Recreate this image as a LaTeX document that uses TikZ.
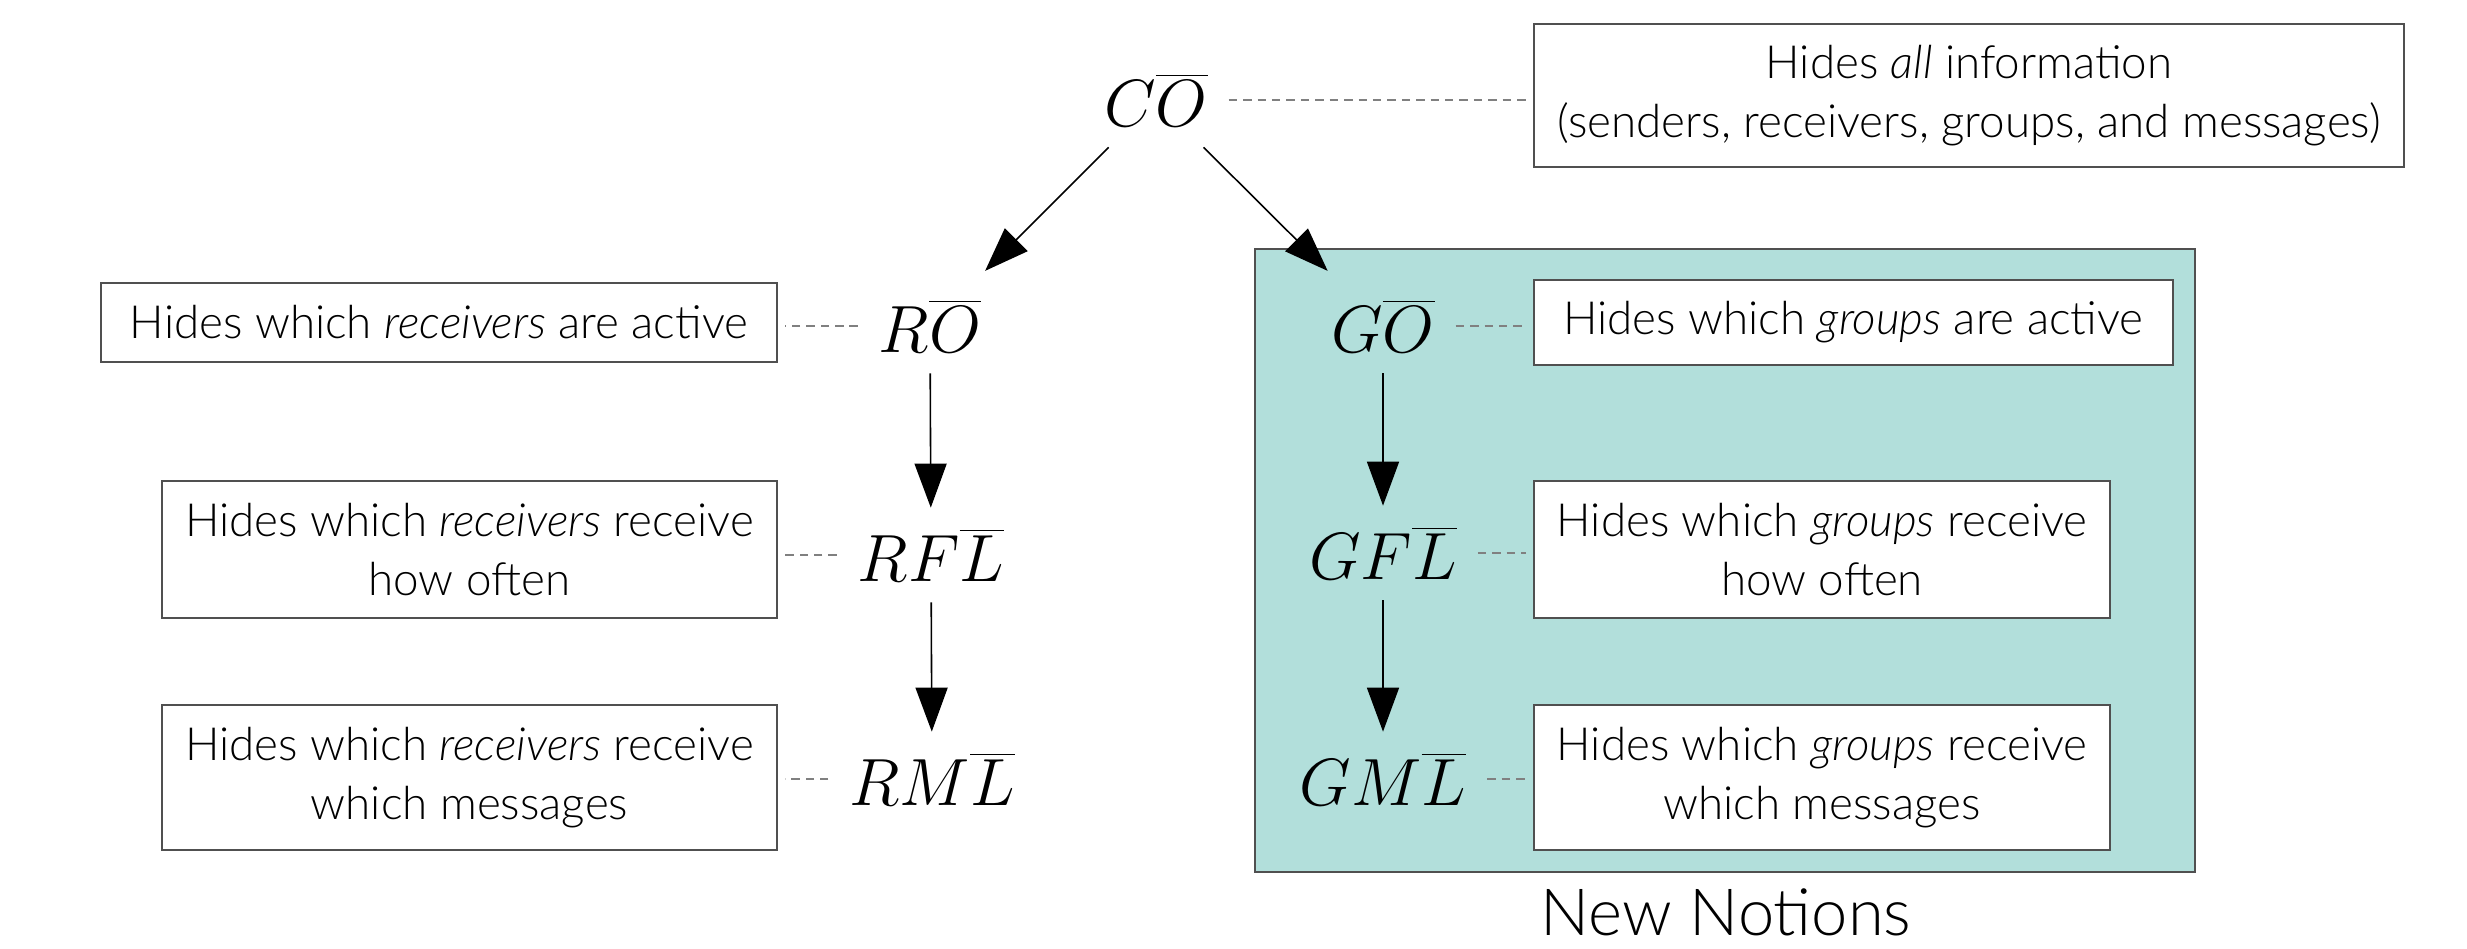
\RequirePackage{fix-cm}
\documentclass[tikz,border=0pt]{standalone}
\usepackage{fontspec}
\setmainfont{Lato}[UprightFont={* Light}, ItalicFont={* Light Italic}]
\usetikzlibrary{arrows.meta}
\definecolor{notionfill}{HTML}{B2DFDB}
\definecolor{boxline}{HTML}{505050}
\definecolor{dashline}{HTML}{808080}
\begin{document}
\begin{tikzpicture}[x=0.01cm,y=-0.01cm,
  notion/.style={inner sep=0pt, outer sep=0.21cm, font=\fontsize{19}{23}\selectfont},
  descbox/.style={draw=boxline, line width=0.55pt, fill=white, align=center,
    inner sep=0pt, font=\fontsize{13}{16.9}\selectfont},
  region/.style={draw=boxline, line width=0.55pt, fill=notionfill, inner sep=0pt,
    minimum width=9.40cm, minimum height=6.23cm},
  link/.style={draw=dashline, line width=0.45pt, dash pattern=on 2.4pt off 1.7pt,
    shorten >=0.07cm},
  refines/.style={-{Triangle[length=0.44cm,width=0.32cm]}, line width=0.45pt},
  diag/.style={refines, shorten >=0.11cm}]
\useasboundingbox (0,0) rectangle (2467,948);

% shaded area of the new notions
\node[region] (newarea) at (1725,560.5) {};
\node[font=\fontsize{18.5}{22}\selectfont] (newlabel) at (1726,912) {New Notions};

% notions
\node[notion] (co)  at (1156,100) {$C\overline{O}$};
\node[notion] (ro)  at (930,326)  {$R\overline{O}$};
\node[notion] (rfl) at (931,555)  {$RF\overline{L}$};
\node[notion] (rml) at (932,779)  {$RM\overline{L}$};
\node[notion] (go)  at (1383,326) {$G\overline{O}$};
\node[notion] (gfl) at (1383,553) {$GF\overline{L}$};
\node[notion] (gml) at (1383,779) {$GM\overline{L}$};

% descriptions
\node[descbox, minimum width=8.70cm, minimum height=1.43cm] (coinfo) at (1969,95.5)
  {Hides \emph{all} information\\(senders, receivers, groups, and messages)};
\node[descbox, minimum width=6.76cm, minimum height=0.79cm] (roinfo) at (439,322.5)
  {Hides which \emph{receivers} are active};
\node[descbox, minimum width=6.15cm, minimum height=1.37cm] (rflinfo) at (469.5,549.5)
  {Hides which \emph{receivers} receive\\how often};
\node[descbox, minimum width=6.15cm, minimum height=1.45cm] (rmlinfo) at (469.5,777.5)
  {Hides which \emph{receivers} receive\\which messages};
\node[descbox, minimum width=6.39cm, minimum height=0.85cm] (goinfo) at (1853.5,322.5)
  {Hides which \emph{groups} are active};
\node[descbox, minimum width=5.76cm, minimum height=1.37cm] (gflinfo) at (1822,549.5)
  {Hides which \emph{groups} receive\\how often};
\node[descbox, minimum width=5.76cm, minimum height=1.45cm] (gmlinfo) at (1822,777.5)
  {Hides which \emph{groups} receive\\which messages};

% refinement arrows
\draw[diag] (co) -- (ro);
\draw[diag] (co) -- (go);
\draw[refines] (ro) -- (rfl);
\draw[refines] (rfl) -- (rml);
\draw[refines] (go) -- (gfl);
\draw[refines] (gfl) -- (gml);

% links to the descriptions
\draw[link] (co) -- (co -| coinfo.west);
\draw[link] (ro) -- (ro -| roinfo.east);
\draw[link] (rfl) -- (rfl -| rflinfo.east);
\draw[link] (rml) -- (rml -| rmlinfo.east);
\draw[link] (go) -- (go -| goinfo.west);
\draw[link] (gfl) -- (gfl -| gflinfo.west);
\draw[link] (gml) -- (gml -| gmlinfo.west);
\end{tikzpicture}
\end{document}
